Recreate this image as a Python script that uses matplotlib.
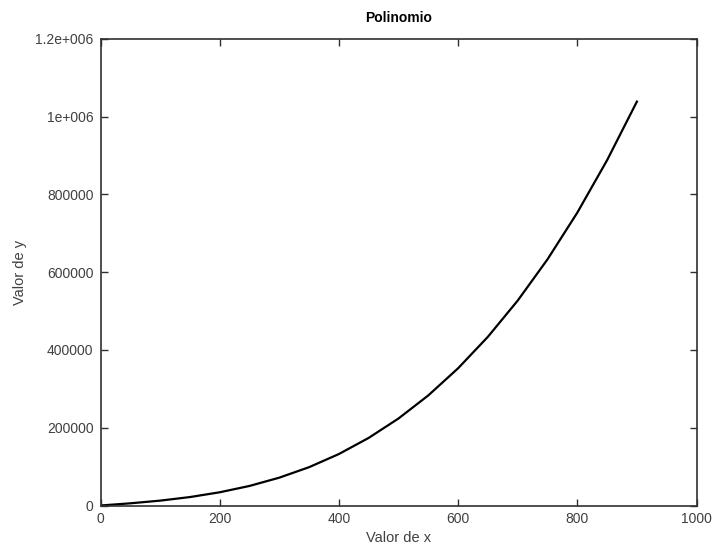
import matplotlib
matplotlib.use("Agg")
import matplotlib.pyplot as plt

plt.rcParams['font.family'] = ['Liberation Sans', 'DejaVu Sans']

x_values = [0, 50, 100, 150, 200, 250, 300, 350, 400, 450, 500, 550, 600,
            650, 700, 750, 800, 850, 900]
y_values = [0, 5600, 12500, 21700, 34000, 50300, 71600, 98600, 132400,
            173900, 223800, 283200, 353000, 434000, 527100, 633200, 753300,
            888300, 1039000]

x_ticks = [0, 200, 400, 600, 800, 1000]
x_tick_labels = ["0", "200", "400", "600", "800", "1000"]
y_ticks = [0, 200000, 400000, 600000, 800000, 1000000, 1200000]
y_tick_labels = ["0", "200000", "400000", "600000", "800000", "1e+006", "1.2e+006"]

title = "Polinomio"
xlabel = "Valor de x"
ylabel = "Valor de y"

fig = plt.figure(figsize=(7.16, 5.47), dpi=100)
ax = fig.add_axes([100.5/716, 1-505.5/547, 596/716, 466.5/547])

ax.plot(x_values, y_values, color="black", linewidth=1.6,
        solid_joinstyle="round")

ax.set_xlim(0, 1000)
ax.set_ylim(0, 1200000)
ax.set_xticks(x_ticks)
ax.set_xticklabels(x_tick_labels)
ax.set_yticks(y_ticks)
ax.set_yticklabels(y_tick_labels)

txt_color = "#404040"
ax.tick_params(direction="in", length=5, width=1, colors="#303030",
               labelcolor=txt_color, labelsize=10, top=True, right=True, pad=5)
for s in ax.spines.values():
    s.set_color("#303030")
    s.set_linewidth(1.2)

ax.set_title(title, fontsize=10, fontweight="bold", color="black", pad=12)
ax.set_xlabel(xlabel, fontsize=10.5, color=txt_color, labelpad=3)
ax.set_ylabel(ylabel, fontsize=10.5, color=txt_color, labelpad=6)

fig.savefig("out.png", dpi=100)
